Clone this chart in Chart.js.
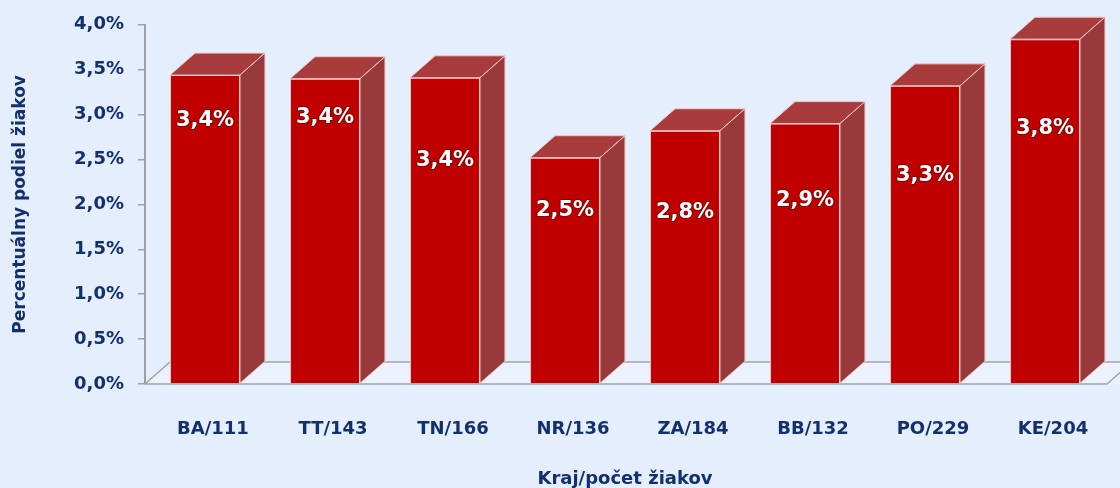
<!DOCTYPE html>
<html>
<head>
<meta charset="utf-8">
<script src="https://cdn.jsdelivr.net/npm/chart.js@4"></script>
<style>
  html, body { margin: 0; padding: 0; background: #E4EEFD; }
  #box { width: 1120px; height: 488px; }
</style>
</head>
<body>
<div id="box"><canvas id="graf"></canvas></div>
<script>
// kraje a podiely
const kraje = ['BA/111', 'TT/143', 'TN/166', 'NR/136', 'ZA/184', 'BB/132', 'PO/229', 'KE/204'];
const podiel = [3.44, 3.40, 3.41, 2.52, 2.82, 2.90, 3.32, 3.84];
const osY = [0, 0.5, 1, 1.5, 2, 2.5, 3, 3.5, 4];

const modra = '#12306E';
const pismo = 'DejaVu Sans';

function percento(v) {
	return v.toFixed(1).replace('.', ',') + '%';
}

// 3D kocky - vrch, bok, podlaha
const kocka = {
	id: 'kocka',
	beforeDatasetsDraw(chart, args, o) {
		const ctx = chart.ctx;
		const a = chart.chartArea;
		const y0 = chart.scales.y.getPixelForValue(0);
		ctx.save();
		ctx.beginPath();
		ctx.moveTo(a.left, y0);
		ctx.lineTo(a.left + o.dx, y0 - o.dy);
		ctx.lineTo(a.right + o.dx + 20, y0 - o.dy);
		ctx.lineTo(a.right + 20, y0);
		ctx.closePath();
		ctx.fillStyle = '#ECF2FD';
		ctx.fill();
		ctx.strokeStyle = '#A4A4A4';
		ctx.lineWidth = 1.5;
		ctx.beginPath();
		ctx.moveTo(a.left, y0);
		ctx.lineTo(a.left + o.dx, y0 - o.dy);
		ctx.lineTo(a.right + o.dx + 20, y0 - o.dy);
		ctx.moveTo(a.left, y0);
		ctx.lineTo(a.right + 2, y0);
		ctx.lineTo(a.right + 2 + o.dx, y0 - o.dy);
		ctx.stroke();
		ctx.restore();
	},
	afterDatasetsDraw(chart, args, o) {
		const ctx = chart.ctx;
		const meta = chart.getDatasetMeta(0);
		ctx.save();
		ctx.lineWidth = 1;
		ctx.strokeStyle = '#F0C8C8';
		meta.data.forEach(function (bar, i) {
			const p = bar.getProps(['x', 'y', 'base', 'width'], true);
			const l = p.x - p.width / 2, r = p.x + p.width / 2;
			// vrch
			ctx.beginPath();
			ctx.moveTo(l, p.y);
			ctx.lineTo(l + o.dx, p.y - o.dy);
			ctx.lineTo(r + o.dx, p.y - o.dy);
			ctx.lineTo(r, p.y);
			ctx.closePath();
			ctx.fillStyle = '#A83B3C';
			ctx.fill();
			ctx.stroke();
			// bok
			ctx.beginPath();
			ctx.moveTo(r, p.y);
			ctx.lineTo(r + o.dx, p.y - o.dy);
			ctx.lineTo(r + o.dx, p.base - o.dy);
			ctx.lineTo(r, p.base);
			ctx.closePath();
			ctx.fillStyle = '#983A3B';
			ctx.fill();
			ctx.stroke();
			// hodnota
			ctx.font = 'bold 21px "' + pismo + '"';
			ctx.textAlign = 'center';
			ctx.textBaseline = 'middle';
			ctx.lineWidth = 2;
			ctx.strokeStyle = 'rgba(90,0,0,0.5)';
			const t = percento(podiel[i]);
			const ty = p.y + o.pokles[i];
			ctx.strokeText(t, p.x, ty);
			ctx.fillStyle = '#FFFFFF';
			ctx.fillText(t, p.x, ty);
			ctx.lineWidth = 1;
			ctx.strokeStyle = '#F0C8C8';
		});
		ctx.restore();
	}
};

const ctx = document.getElementById('graf').getContext('2d');
const graf = new Chart(ctx, {
	type: 'bar',
	data: {
		labels: kraje,
		datasets: [{
			data: podiel,
			backgroundColor: '#C00000',
			borderColor: '#F0C8C8',
			borderWidth: 1,
			categoryPercentage: 1,
			barPercentage: 0.583
		}]
	},
	options: {
		responsive: true,
		maintainAspectRatio: false,
		animation: false,
		layout: { padding: { top: 21, right: 15, bottom: 0, left: 0 } },
		plugins: {
			legend: { display: false },
			tooltip: { enabled: false },
			kocka: { dx: 25, dy: 22, pokles: [45, 39, 83, 53, 82, 77, 90, 89] }
		},
		scales: {
			x: {
				grid: { display: false, drawTicks: false },
				border: { display: false },
				ticks: {
					color: modra,
					font: { family: pismo, size: 18, weight: 'bold' },
					padding: 35,
					labelOffset: 8,
					maxRotation: 0
				},
				title: {
					display: true,
					text: 'Kraj/počet žiakov',
					color: modra,
					font: { family: pismo, size: 18, weight: 'bold', lineHeight: 1 },
					padding: 0
				},
				afterFit: function (s) { s.height = 104; }
			},
			y: {
				min: 0,
				max: 4,
				afterBuildTicks: function (s) { s.ticks = osY.map(v => ({ value: v })); },
				grid: { drawOnChartArea: false, drawTicks: true, tickLength: 7, color: '#A0A0A0', lineWidth: 1.5 },
				border: { display: true, color: '#A0A0A0', width: 2 },
				ticks: {
					color: modra,
					font: { family: pismo, size: 18, weight: 'bold' },
					padding: 14,
					callback: function (v) { return percento(v); }
				},
				title: {
					display: true,
					text: 'Percentuálny podiel žiakov',
					color: modra,
					font: { family: pismo, size: 17, weight: 'bold', lineHeight: 1.2 },
					padding: { top: 10, bottom: 0 }
				},
				afterFit: function (s) { s.width = 145; }
			}
		}
	},
	plugins: [kocka]
});
</script>
</body>
</html>
